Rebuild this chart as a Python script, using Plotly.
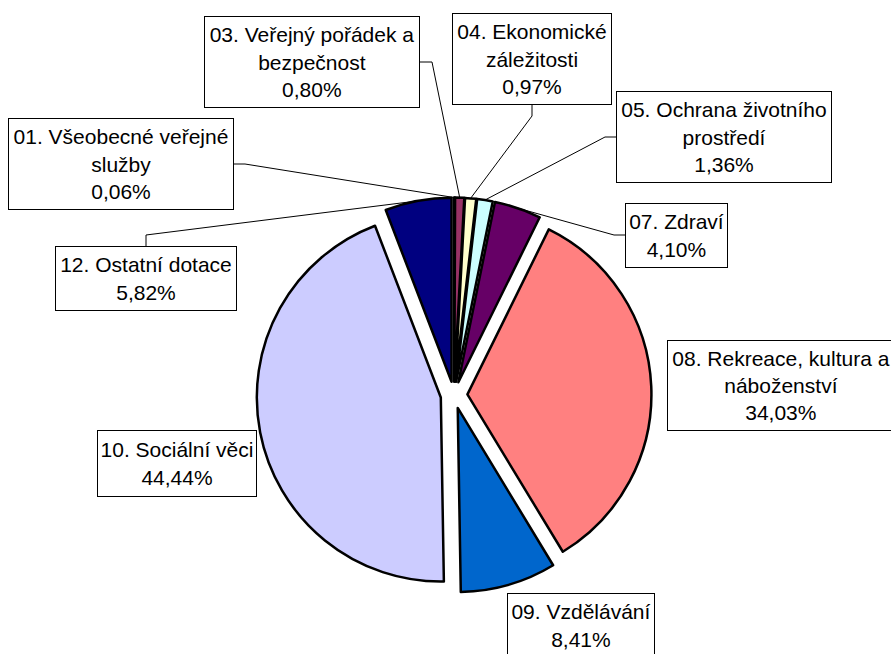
import math
import plotly.graph_objects as go

W, H = 891, 654

categories = [
    "01. Všeobecné veřejné služby",
    "03. Veřejný pořádek a bezpečnost",
    "04. Ekonomické záležitosti",
    "05. Ochrana životního prostředí",
    "07. Zdraví",
    "08. Rekreace, kultura a náboženství",
    "09. Vzdělávání",
    "10. Sociální věci",
    "12. Ostatní dotace",
]
# same names, wrapped the way the boxes show them
box_names = [
    "01. Všeobecné veřejné<br>služby",
    "03. Veřejný pořádek a<br>bezpečnost",
    "04. Ekonomické<br>záležitosti",
    "05. Ochrana životního<br>prostředí",
    "07. Zdraví",
    "08. Rekreace, kultura a<br>náboženství",
    "09. Vzdělávání",
    "10. Sociální věci",
    "12. Ostatní dotace",
]
values = [0.06, 0.80, 0.97, 1.36, 4.10, 34.03, 8.41, 44.44, 5.82]
colors = ["#9999FF", "#993366", "#FFFFCC", "#CCFFFF", "#660066",
          "#FF8080", "#0066CC", "#CCCCFF", "#000080"]

# pie placement in pixels
CX, CY = 454, 395
R = 184
PULL = 0.073
OUTER = R * (1 + PULL)

# label boxes (x0, y0, x1, y1) in pixels, and leader start/elbow (or None)
boxes = [
    ((8, 118, 234, 210), ((234, 164), (245, 164))),
    ((204, 16, 420, 108), ((420, 62), (432, 62))),
    ((452, 13, 612, 105), ((532, 105), (532, 116))),
    ((616, 91, 832, 183), ((616, 137), (605, 137))),
    ((625, 203, 728, 268), ((625, 235), (614, 235))),
    ((667, 340, 895, 431), None),
    ((507, 593, 655, 658), None),
    ((97, 430, 257, 497), None),
    ((55, 246, 237, 311), ((146, 246), (146, 235))),
]


def px(x):
    return x / W


def py(y):
    return 1 - y / H


fig = go.Figure(go.Pie(
    values=values,
    labels=categories,
    sort=False,
    direction="clockwise",
    rotation=0,
    pull=[PULL] * len(values),
    marker=dict(colors=colors, line=dict(color="black", width=2.5)),
    textinfo="none",
    hoverinfo="label+percent",
    showlegend=False,
    domain=dict(x=[px(CX - OUTER), px(CX + OUTER)],
                y=[py(CY + OUTER), py(CY - OUTER)]),
))

total = sum(values)
cum = 0
shapes = []
annotations = []
for name, v, (box, leader) in zip(box_names, values, boxes):
    mid = (cum + v / 2) / total * 2 * math.pi
    cum += v
    x0, y0, x1, y1 = box
    text = name + "<br>" + f"{v:.2f}".replace(".", ",") + "%"
    annotations.append(dict(
        x=px(x0), y=py(y0), xref="paper", yref="paper",
        xanchor="left", yanchor="top",
        width=x1 - x0 - 2, height=y1 - y0 - 2,
        text=text, showarrow=False, align="center", valign="middle",
        bgcolor="white", bordercolor="black", borderwidth=1, borderpad=0,
        font=dict(family="Arial, Liberation Sans, sans-serif", size=21, color="black"),
    ))
    if leader:
        (sx, sy), (ex, ey) = leader
        tx = CX + OUTER * math.sin(mid)
        ty = CY - OUTER * math.cos(mid)
        shapes.append(dict(
            type="path", xref="paper", yref="paper",
            path=f"M{px(sx)},{py(sy)} L{px(ex)},{py(ey)} L{px(tx)},{py(ty)}",
            line=dict(color="black", width=1),
        ))

fig.update_layout(
    width=W, height=H,
    margin=dict(l=0, r=0, t=0, b=0),
    paper_bgcolor="white",
    plot_bgcolor="white",
    shapes=shapes,
    annotations=annotations,
)

fig.write_html("out.html", config={"displayModeBar": False},
               post_script="document.body.style.margin='0';")
